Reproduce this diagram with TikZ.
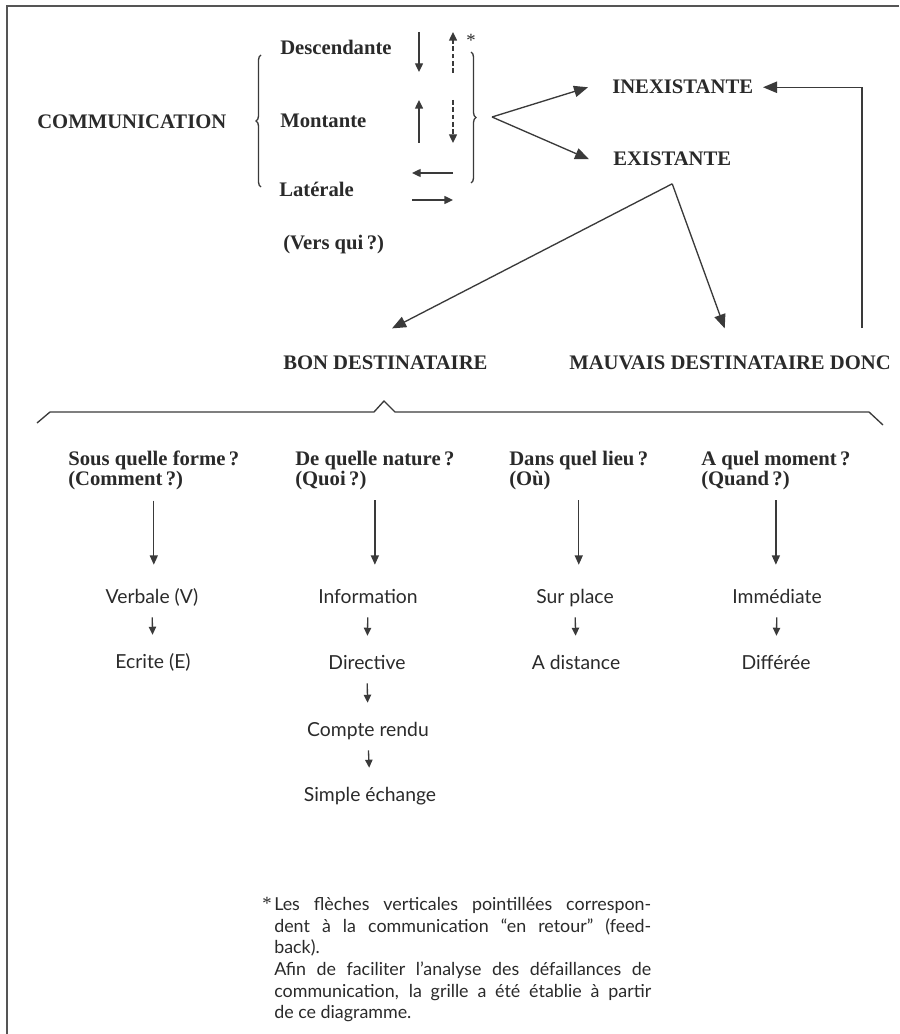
\documentclass[tikz,border=0pt]{standalone}
\usepackage{fontspec}
\setmainfont{Liberation Serif}
\newfontfamily\lightfont{Lato}
\usetikzlibrary{arrows.meta,decorations.pathreplacing,calc}
\definecolor{ink}{HTML}{2A2A2A}
\definecolor{lineink}{HTML}{3A3A3A}
\definecolor{frameink}{HTML}{555555}
\begin{document}
\begin{tikzpicture}[x=0.75pt,y=-0.75pt,
  lbl/.style={inner sep=0pt, anchor=base west, font=\fontsize{15.5}{18}\selectfont\bfseries, text=ink},
  hdr/.style={inner sep=0pt, anchor=north west, align=left, font=\fontsize{15.5}{13.5}\selectfont\bfseries, text=ink},
  itemtxt/.style={inner sep=0pt, anchor=base, font=\lightfont\fontsize{14.5}{16}\selectfont, text=ink, text height=9.75pt, text depth=2.6pt},
  fnline/.style={inner sep=0pt, anchor=base west, font=\lightfont\fontsize{13.4}{16}\selectfont, text=ink},
  asterisk/.style={inner sep=0pt, font=\fontsize{14}{14}\selectfont, text=ink},
  conn/.style={draw=lineink, line width=1pt},
  bigarrow/.style={conn, -{Triangle[length=10.5pt,width=8.5pt]}},
  colarrow/.style={conn, -{Triangle[length=7pt,width=6pt]}},
  smallarrow/.style={conn, -{Triangle[length=6pt,width=5.5pt]}, shorten <=8pt, shorten >=15pt},
  symarrow/.style={conn, -{Triangle[length=6.5pt,width=6pt]}},
  dashedsym/.style={symarrow, dash pattern=on 3.5pt off 2pt},
  bracestyle/.style={draw=lineink, line width=1pt, decorate, decoration={brace, amplitude=3.75pt}},
  frame/.style={draw=frameink, line width=1.5pt}
]
\useasboundingbox (0,0) rectangle (899,1034);
% frame
\draw[frame] (899,6) -- (7,6) -- (7,1034);

% top labels
\node[lbl] (comm) at (37,129) {COMMUNICATION};
\node[lbl] (desc) at (280,55) {Descendante};
\node[lbl] (mont) at (280,128) {Montante};
\node[lbl] (lat) at (279,197) {Latérale};
\node[lbl] (vers) at (283,249) {(Vers qui\,?)};
\node[lbl] (inex) at (612,94) {INEXISTANTE};
\node[lbl] (exis) at (613,166) {EXISTANTE};
\node[lbl] (bon) at (283,369) {BON DESTINATAIRE};
\node[lbl] (mauv) at (569,369) {MAUVAIS DESTINATAIRE DONC};
\node[asterisk] (ast) at (471,40) {*};

% braces
\draw[bracestyle] (261,187) -- (261,55);
\draw[bracestyle] (471,52) -- (471,183);

% direction symbols
\draw[symarrow] (419,32) -- (419,72);
\draw[dashedsym] (453,73) -- (453,32);
\draw[symarrow] (419,143) -- (419,100);
\draw[dashedsym] (453,100) -- (453,143);
\draw[symarrow] (453,173) -- (412,173);
\draw[symarrow] (412,200) -- (453,200);

% fork to existante / inexistante
\coordinate (fork) at (492,117);
\draw[bigarrow] (fork) -- ([xshift=-18pt]inex.west);
\draw[bigarrow] (fork) -- ([xshift=-18pt]exis.west);

% split below existante
\coordinate (split) at ([yshift=-13pt]exis.south);
\draw[bigarrow] (split) -- ([xshift=5pt,yshift=20pt]bon.north);
\draw[bigarrow] (split) -- ([xshift=-4pt,yshift=20pt]mauv.north);

% feedback from mauvais destinataire to inexistante
\coordinate (fb) at (862,328);
\draw[bigarrow] (fb) |- ([xshift=7.2pt]inex.east);

% bottom brace
\draw[conn] (37,423) -- (50,412) -- (374,412) -- (384,401) -- (395,412) -- (869,412) -- (883,425);

% column headers
\node[hdr] (h1) at (68,451) {Sous quelle forme\,?\\(Comment\,?)};
\node[hdr] (h2) at (295,451) {De quelle nature\,?\\(Quoi\,?)};
\node[hdr] (h3) at (509,451) {Dans quel lieu\,?\\(Où)};
\node[hdr] (h4) at (701,451) {A quel moment\,?\\(Quand\,?)};

% items
\node[itemtxt] (v1) at (152,603) {Verbale (V)};
\node[itemtxt] (e1) at (153,668) {Ecrite (E)};
\node[itemtxt] (i2) at (368,603) {Information};
\node[itemtxt] (d2) at (367,669) {Directive};
\node[itemtxt] (c2) at (368,736) {Compte rendu};
\node[itemtxt] (s2) at (370,801) {Simple échange};
\node[itemtxt] (p3) at (575,603) {Sur place};
\node[itemtxt] (a3) at (576,669) {A distance};
\node[itemtxt] (m4) at (777,603) {Immédiate};
\node[itemtxt] (f4) at (776,669) {Différée};

% column arrows
\foreach \h/\v in {h1/v1,h2/i2,h3/p3,h4/m4}{
  \draw[colarrow, shorten <=7.5pt, shorten >=18.75pt] (\h.south) -- (\h.south |- \v.north);
}
% small arrows
\draw[smallarrow] (v1.south) -- (e1.north);
\draw[smallarrow] (i2.south) -- (d2.north);
\draw[smallarrow] (d2.south) -- (c2.north);
\draw[smallarrow] (c2.south) -- (s2.north);
\draw[smallarrow] (p3.south) -- (a3.north);
\draw[smallarrow] (m4.south) -- (f4.north);

% footnote
\node[asterisk] (fnstar) at (267,903) {*};
\node[fnline] (fn1) at (274,910) {\makebox[282.75pt][s]{Les flèches verticales pointillées correspon-}};
\node[fnline] (fn2) at (274,932) {\makebox[282.75pt][s]{dent à la communication “en retour” (feed-}};
\node[fnline] (fn3) at (274,953) {back).};
\node[fnline] (fn4) at (274,975) {\makebox[282.75pt][s]{Afin de faciliter l’analyse des défaillances de}};
\node[fnline] (fn5) at (274,997) {\makebox[282.75pt][s]{communication, la grille a été établie à partir}};
\node[fnline] (fn6) at (274,1018) {de ce diagramme.};
\end{tikzpicture}
\end{document}
